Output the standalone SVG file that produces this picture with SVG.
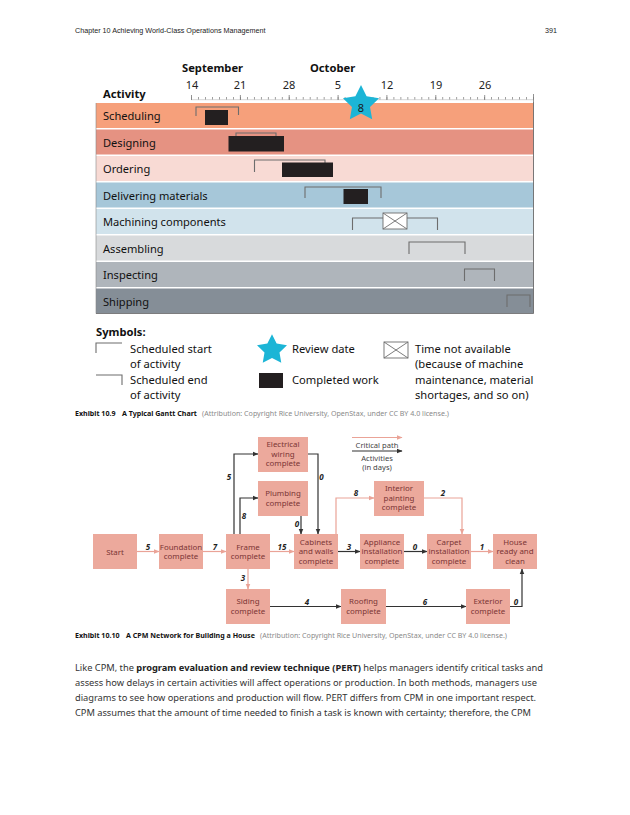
<svg xmlns="http://www.w3.org/2000/svg" width="630" height="815" viewBox="0 0 630 815">
<defs>
<style>
text{font-family:"Noto Sans","Open Sans",sans-serif}
.hdr{font-family:"Liberation Sans",Arial,sans-serif;font-size:7.2px;fill:#222}
.mon{font-size:11.2px;font-weight:bold;fill:#111}
.day{font-size:11px;fill:#222;text-anchor:middle}
.row{font-size:11.1px;fill:#111}
.br{fill:none;stroke:#6d6d6d;stroke-width:1.1}
.done{fill:#231f20}
.sym{font-size:11.2px;fill:#111}
.cap{font-size:7.1px;fill:#111;font-weight:bold}
.att{font-size:7.1px;fill:#8a8a8a;font-weight:normal}
.node rect{fill:#eca99c}
.node text{font-size:7.9px;fill:#7b3535;text-anchor:middle}
.crit{fill:none;stroke:#eaa397;stroke-width:1.2}
.act{fill:none;stroke:#333;stroke-width:1.2}
.lbl{font-size:8px;font-weight:bold;font-style:italic;fill:#222;text-anchor:middle}
.leg{font-size:7.6px;fill:#444;text-anchor:middle}
.para{font-size:9.3px;fill:#333}
</style>
<marker id="ap" viewBox="0 0 10 10" refX="9" refY="5" markerWidth="6" markerHeight="6" markerUnits="userSpaceOnUse" orient="auto"><path d="M0 1L10 5L0 9z" fill="#eaa397"/></marker>
<marker id="ad" viewBox="0 0 10 10" refX="9" refY="5" markerWidth="6" markerHeight="6" markerUnits="userSpaceOnUse" orient="auto"><path d="M0 1L10 5L0 9z" fill="#333"/></marker>
<polygon id="star" points="0,-19 5.58,-7.69 18.07,-5.87 9.03,2.94 11.17,15.37 0,9.5 -11.17,15.37 -9.03,2.94 -18.07,-5.87 -5.58,-7.69" fill="#1cb5d6"/>
<g id="xbox"><rect x="0" y="0" width="24" height="16" fill="#fff" stroke="#6d6d6d" stroke-width="0.9"/><path d="M0 0L24 16M24 0L0 16" stroke="#6d6d6d" stroke-width="0.9"/></g>
</defs>
<rect width="630" height="815" fill="#fff"/>

<text class="hdr" x="75" y="33">Chapter 10 Achieving World-Class Operations Management</text>
<text class="hdr" x="545" y="33">391</text>

<g id="gantt">
<text class="mon" x="182" y="72">September</text>
<text class="mon" x="310" y="72">October</text>
<text class="mon" x="103" y="98">Activity</text>
<g class="days">
<text class="day" x="192" y="89">14</text>
<text class="day" x="240" y="89">21</text>
<text class="day" x="289" y="89">28</text>
<text class="day" x="338" y="89">5</text>
<text class="day" x="387" y="89">12</text>
<text class="day" x="436" y="89">19</text>
<text class="day" x="485" y="89">26</text>
</g>
<line x1="191" y1="99.7" x2="534" y2="99.7" stroke="#bbb" stroke-width="0.6"/>
<line x1="191" y1="98.2" x2="534" y2="98.2" stroke="#777" stroke-width="2.6" stroke-dasharray="0.7 6.28" stroke-dashoffset="0.35" transform="translate(0.5 0)"/>
<path d="M191.5 95V100M240.4 95V100M289.2 95V100M338.1 95V100M386.9 95V100M435.8 95V100M484.7 95V100M533.5 94V102" stroke="#777" stroke-width="0.8"/>

<rect x="96" y="103" width="437.5" height="25" fill="#f6a07b"/>
<rect x="96" y="129.5" width="437.5" height="25" fill="#e59282"/>
<rect x="96" y="156" width="437.5" height="25" fill="#f8dad4"/>
<rect x="96" y="182.5" width="437.5" height="25" fill="#a6c7d9"/>
<rect x="96" y="209" width="437.5" height="25" fill="#d1e3ec"/>
<rect x="96" y="235.5" width="437.5" height="25" fill="#d8dadc"/>
<rect x="96" y="262" width="437.5" height="25" fill="#afb5bb"/>
<rect x="96" y="288.5" width="437.5" height="25" fill="#858e97"/>
<line x1="533.5" y1="102" x2="533.5" y2="313.5" stroke="#6a6a6a" stroke-width="0.9"/>
<line x1="96" y1="103" x2="96" y2="313.5" stroke="#888" stroke-width="0.6"/>
<line x1="96" y1="313.5" x2="533.5" y2="313.5" stroke="#6a6a6a" stroke-width="0.8"/>

<text class="row" x="103" y="120">Scheduling</text>
<text class="row" x="103" y="146.5">Designing</text>
<text class="row" x="103" y="173">Ordering</text>
<text class="row" x="103" y="199.5">Delivering materials</text>
<text class="row" x="103" y="226">Machining components</text>
<text class="row" x="103" y="252.5">Assembling</text>
<text class="row" x="103" y="279">Inspecting</text>
<text class="row" x="103" y="305.5">Shipping</text>

<path class="br" d="M196 116V107H238.5V115"/>
<rect class="done" x="205" y="110" width="23" height="15"/>
<path class="br" d="M236 138V133H276V138"/>
<rect class="done" x="228.5" y="136" width="55.5" height="15.5"/>
<path class="br" d="M254.5 172V160H325V164"/>
<rect class="done" x="282" y="162.5" width="51" height="14.5"/>
<path class="br" d="M305 198V187H381V198"/>
<rect class="done" x="343.5" y="189" width="24.5" height="15"/>
<path class="br" d="M352.5 230V218H383M407 218H437.5V230"/>
<use href="#xbox" x="383" y="213"/>
<path class="br" d="M409 254V242H465V254"/>
<path class="br" d="M464.5 281V269H494.5V281"/>
<path class="br" d="M507 307V295H530V307"/>

<use href="#star" transform="translate(361 104)"/>
<text x="361" y="112" font-size="11" fill="#1a1a1a" text-anchor="middle">8</text>
</g>

<g id="symbols">
<text class="mon" x="96" y="336" font-size="12">Symbols:</text>
<path class="br" d="M96 353V343H122"/>
<text class="sym" x="130" y="353">Scheduled start</text>
<text class="sym" x="130" y="368">of activity</text>
<path class="br" d="M96 375H122V385"/>
<text class="sym" x="130" y="384">Scheduled end</text>
<text class="sym" x="130" y="399">of activity</text>
<use href="#star" transform="translate(272 350) scale(0.83)"/>
<text class="sym" x="292" y="353">Review date</text>
<rect class="done" x="259" y="373" width="24" height="15"/>
<text class="sym" x="292" y="384">Completed work</text>
<use href="#xbox" x="384" y="342"/>
<text class="sym" x="415" y="353">Time not available</text>
<text class="sym" x="415" y="368">(because of machine</text>
<text class="sym" x="415" y="384">maintenance, material</text>
<text class="sym" x="415" y="399">shortages, and so on)</text>
</g>

<text class="cap" x="75" y="416">Exhibit 10.9<tspan x="122">A Typical Gantt Chart</tspan><tspan class="att" x="202">(Attribution: Copyright Rice University, OpenStax, under CC BY 4.0 license.)</tspan></text>

<g id="connectors">
<line class="crit" x1="137" y1="551.5" x2="159" y2="551.5" marker-end="url(#ap)"/>
<line class="crit" x1="203" y1="551.5" x2="226" y2="551.5" marker-end="url(#ap)"/>
<line class="crit" x1="270" y1="551.5" x2="294" y2="551.5" marker-end="url(#ap)"/>
<path class="act" d="M234 534V454H258" marker-end="url(#ad)"/>
<path class="act" d="M240 534V498H258" marker-end="url(#ad)"/>
<path class="act" d="M308 454H318V534" marker-end="url(#ad)"/>
<path class="act" d="M301 516V534" marker-end="url(#ad)"/>
<path class="crit" d="M336 534V498H374" marker-end="url(#ap)"/>
<path class="crit" d="M424 498H462V534" marker-end="url(#ap)"/>
<line class="act" x1="338" y1="551.5" x2="360" y2="551.5" marker-end="url(#ad)"/>
<line class="act" x1="404" y1="551.5" x2="427" y2="551.5" marker-end="url(#ad)"/>
<line class="crit" x1="471" y1="551.5" x2="493" y2="551.5" marker-end="url(#ap)"/>
<path class="crit" d="M248 569V589" marker-end="url(#ap)"/>
<line class="act" x1="270" y1="606.5" x2="341" y2="606.5" marker-end="url(#ad)"/>
<line class="act" x1="386" y1="606.5" x2="466" y2="606.5" marker-end="url(#ad)"/>
<path class="act" d="M510 606.5H522V569" marker-end="url(#ad)"/>
<g class="labels">
<text class="lbl" x="148" y="550">5</text>
<text class="lbl" x="215" y="550">7</text>
<text class="lbl" x="282" y="550">15</text>
<text class="lbl" x="229" y="480">5</text>
<text class="lbl" x="244" y="519">8</text>
<text class="lbl" x="321.5" y="480">0</text>
<text class="lbl" x="297" y="527">0</text>
<text class="lbl" x="356" y="496">8</text>
<text class="lbl" x="443" y="496">2</text>
<text class="lbl" x="349" y="550">3</text>
<text class="lbl" x="415" y="550">0</text>
<text class="lbl" x="482" y="550">1</text>
<text class="lbl" x="243" y="581">3</text>
<text class="lbl" x="307" y="605">4</text>
<text class="lbl" x="425" y="605">6</text>
<text class="lbl" x="516" y="605">0</text>
</g>
<line class="crit" x1="352" y1="437.5" x2="402" y2="437.5" marker-end="url(#ap)"/>
<text class="leg" x="377" y="447.5">Critical path</text>
<line class="act" x1="352" y1="451" x2="402" y2="451" marker-end="url(#ad)"/>
<text class="leg" x="377" y="461">Activities</text>
<text class="leg" x="377" y="469.5">(in days)</text>
</g>

<g id="n-electrical" class="node"><rect x="258" y="437" width="50" height="35"/><text x="283" y="447">Electrical</text><text x="283" y="456.5">wiring</text><text x="283" y="466">complete</text></g>
<g id="n-plumbing" class="node"><rect x="258" y="481" width="50" height="35"/><text x="283" y="496">Plumbing</text><text x="283" y="505.5">complete</text></g>
<g id="n-interior" class="node"><rect x="374" y="481" width="50" height="35"/><text x="399" y="491">Interior</text><text x="399" y="500.5">painting</text><text x="399" y="510">complete</text></g>
<g id="n-start" class="node"><rect x="93" y="534" width="44" height="35"/><text x="115" y="554.5">Start</text></g>
<g id="n-foundation" class="node"><rect x="159" y="534" width="44" height="35"/><text x="181" y="549.5">Foundation</text><text x="181" y="559">complete</text></g>
<g id="n-frame" class="node"><rect x="226" y="534" width="44" height="35"/><text x="248" y="549.5">Frame</text><text x="248" y="559">complete</text></g>
<g id="n-cabinets" class="node"><rect x="294" y="534" width="44" height="35"/><text x="316" y="544.5">Cabinets</text><text x="316" y="554">and walls</text><text x="316" y="563.5">complete</text></g>
<g id="n-appliance" class="node"><rect x="360" y="534" width="44" height="35"/><text x="382" y="544.5">Appliance</text><text x="382" y="554">installation</text><text x="382" y="563.5">complete</text></g>
<g id="n-carpet" class="node"><rect x="427" y="534" width="44" height="35"/><text x="449" y="544.5">Carpet</text><text x="449" y="554">installation</text><text x="449" y="563.5">complete</text></g>
<g id="n-house" class="node"><rect x="493" y="534" width="44" height="35"/><text x="515" y="544.5">House</text><text x="515" y="554">ready and</text><text x="515" y="563.5">clean</text></g>
<g id="n-siding" class="node"><rect x="226" y="589" width="44" height="35"/><text x="248" y="604">Siding</text><text x="248" y="613.5">complete</text></g>
<g id="n-roofing" class="node"><rect x="341" y="589" width="45" height="35"/><text x="363.5" y="604">Roofing</text><text x="363.5" y="613.5">complete</text></g>
<g id="n-exterior" class="node"><rect x="466" y="589" width="44" height="35"/><text x="488" y="604">Exterior</text><text x="488" y="613.5">complete</text></g>

<text class="cap" x="75" y="638">Exhibit 10.10<tspan x="126">A CPM Network for Building a House</tspan><tspan class="att" x="260">(Attribution: Copyright Rice University, OpenStax, under CC BY 4.0 license.)</tspan></text>

<g id="paragraph">
<text class="para" x="75" y="671" textLength="468" lengthAdjust="spacing">Like CPM, the <tspan font-weight="bold" fill="#222">program evaluation and review technique (PERT)</tspan> helps managers identify critical tasks and</text>
<text class="para" x="75" y="686" textLength="462" lengthAdjust="spacing">assess how delays in certain activities will affect operations or production. In both methods, managers use</text>
<text class="para" x="75" y="701" textLength="461" lengthAdjust="spacing">diagrams to see how operations and production will flow. PERT differs from CPM in one important respect.</text>
<text class="para" x="75" y="716" textLength="456" lengthAdjust="spacing">CPM assumes that the amount of time needed to finish a task is known with certainty; therefore, the CPM</text>
</g>
</svg>
